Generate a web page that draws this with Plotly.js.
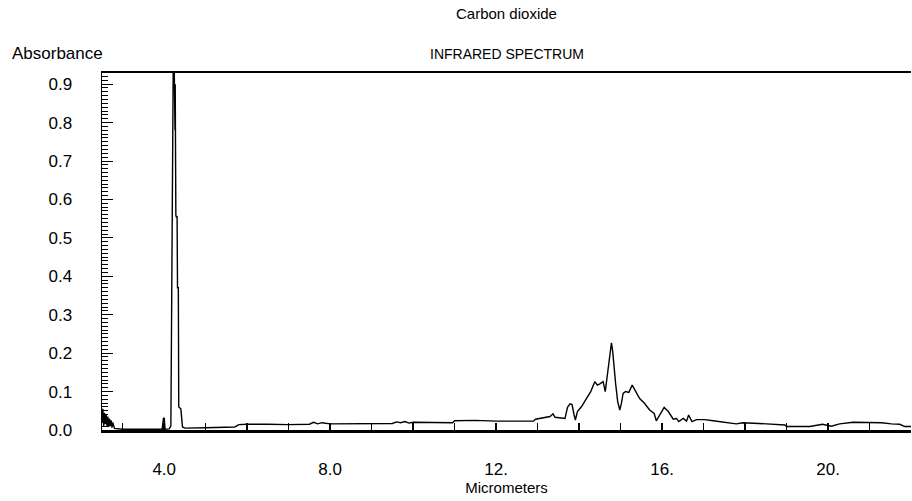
<!DOCTYPE html>
<html>
<head>
<meta charset="utf-8">
<script src="https://cdn.plot.ly/plotly-3.0.1.min.js"></script>
<style>html,body{margin:0;padding:0;background:#fff;}#chart{width:912px;height:501px;}</style>
</head>
<body>
<div id="chart"></div>
<script>
// Wavelength (micrometers)
var wavelength = [
  2.50, 2.52, 2.54, 2.56, 2.58, 2.60, 2.62, 2.64, 2.66, 2.68, 2.70, 2.72, 2.74, 2.76, 2.80, 2.90, 3.00, 3.50, 3.95, 3.98, 4.00, 4.02, 4.12, 4.16,
  4.19, 4.22, 4.24, 4.25, 4.255, 4.26, 4.265, 4.27, 4.28, 4.29, 4.31, 4.32, 4.34, 4.35, 4.40, 4.44, 4.50,
  5.00, 5.50, 5.70, 5.80, 6.00, 6.50, 7.00, 7.50, 7.60, 7.70, 7.80, 8.00, 8.50, 9.00, 9.50, 9.60, 9.70, 9.80, 9.90, 10.00, 10.50, 10.95, 11.00, 11.50, 12.00, 12.50, 12.90, 12.95, 13.20, 13.30, 13.37, 13.42, 13.66,
  13.72, 13.78, 13.83, 13.88, 13.91, 13.96, 14.06, 14.18, 14.28, 14.38, 14.44, 14.50, 14.58, 14.63, 14.68, 14.72, 14.78, 14.81, 14.84, 14.88, 14.93, 14.98, 15.02, 15.06, 15.12, 15.20, 15.28, 15.34, 15.46, 15.58, 15.70, 15.81, 15.86, 15.92, 16.05, 16.15, 16.27, 16.35, 16.40, 16.51, 16.59, 16.64, 16.72, 16.83, 17.03, 17.23, 17.40, 17.63, 17.79, 17.95, 18.28, 18.52, 18.96, 19.00, 19.56, 19.87, 20.08, 20.28, 20.60, 20.84, 21.05, 21.29, 21.53, 21.73, 21.85, 22.00
];
// Absorbance
var absorbance = [
  0.020, 0.055, 0.010, 0.045, 0.015, 0.040, 0.010, 0.035, 0.008, 0.030, 0.010, 0.025, 0.006, 0.020, 0.004, 0.003, 0.002, 0.002, 0.002, 0.030, 0.032, 0.002, 0.003, 0.010,
  0.500, 1.000, 0.950, 0.790, 0.920, 0.780, 0.900, 0.650, 0.560, 0.555, 0.555, 0.370, 0.370, 0.060, 0.055, 0.008, 0.005,
  0.006, 0.007, 0.008, 0.014, 0.015, 0.015, 0.014, 0.015, 0.020, 0.016, 0.019, 0.016, 0.016, 0.016, 0.017, 0.021, 0.019, 0.022, 0.018, 0.020, 0.019, 0.019, 0.024, 0.025, 0.023, 0.023, 0.023, 0.028, 0.032, 0.035, 0.042, 0.033, 0.030,
  0.059, 0.068, 0.066, 0.039, 0.026, 0.048, 0.061, 0.082, 0.100, 0.126, 0.117, 0.120, 0.126, 0.100, 0.139, 0.174, 0.227, 0.204, 0.165, 0.121, 0.074, 0.052, 0.069, 0.095, 0.100, 0.098, 0.117, 0.104, 0.082, 0.069, 0.052, 0.043, 0.024, 0.035, 0.059, 0.048, 0.028, 0.030, 0.022, 0.030, 0.023, 0.039, 0.022, 0.027, 0.027, 0.024, 0.022, 0.019, 0.016, 0.019, 0.018, 0.016, 0.013, 0.009, 0.009, 0.015, 0.010, 0.016, 0.020, 0.019, 0.020, 0.019, 0.016, 0.015, 0.009, 0.009
];
var xTickVals = [4, 8, 12, 16, 20];
var xTickText = ["4.0", "8.0", "12.", "16.", "20."];
var yTickVals = [0, 0.1, 0.2, 0.3, 0.4, 0.5, 0.6, 0.7, 0.8, 0.9];
var yTickText = ["0.0", "0.1", "0.2", "0.3", "0.4", "0.5", "0.6", "0.7", "0.8", "0.9"];

var fontFam = "Liberation Sans, Arial, sans-serif";
var trace = {
  x: wavelength, y: absorbance, type: "scatter", mode: "lines",
  line: {color: "#000", width: 1.4}, hoverinfo: "skip", showlegend: false
};
var layout = {
  width: 912, height: 501,
  margin: {l: 102, r: 1, t: 73, b: 71},
  paper_bgcolor: "#fff", plot_bgcolor: "#fff",
  font: {family: fontFam, size: 15, color: "#000"},
  xaxis: {
    range: [2.5, 22], tickvals: xTickVals, ticktext: xTickText,
    ticks: "inside", ticklen: 7, tickwidth: 1.5, tickcolor: "#000",
    minor: {dtick: 1, tick0: 0, ticks: "inside", ticklen: 7, tickwidth: 1.5, tickcolor: "#000", showgrid: false},
    showline: true, linewidth: 2.5, linecolor: "#000", mirror: true,
    showgrid: false, zeroline: false, ticklabelstandoff: 22,
    tickfont: {family: fontFam, size: 17, color: "#000"},
    title: {text: "Micrometers", font: {family: fontFam, size: 15, color: "#000"}, standoff: 5}
  },
  yaxis: {
    range: [0, 0.929], tickvals: yTickVals, ticktext: yTickText,
    ticks: "inside", ticklen: 11, tickwidth: 1, tickcolor: "#000",
    minor: {dtick: 0.01, tick0: 0, ticks: "inside", ticklen: 6, tickwidth: 1, tickcolor: "#000", showgrid: false},
    showline: true, linewidth: 1.5, linecolor: "#000",
    showgrid: false, zeroline: false, ticklabelstandoff: 25,
    tickfont: {family: fontFam, size: 17, color: "#000"}
  },
  annotations: [
    {text: "Carbon dioxide", xref: "paper", yref: "paper", x: 0.5, y: (430 - 14) / 357, xanchor: "center", yanchor: "middle", showarrow: false, font: {family: fontFam, size: 15, color: "#000"}},
    {text: "INFRARED SPECTRUM", xref: "paper", yref: "paper", x: 0.5, y: (430 - 54) / 357, xanchor: "center", yanchor: "middle", showarrow: false, font: {family: fontFam, size: 14, color: "#000"}},
    {text: "Absorbance", xref: "paper", yref: "paper", x: (10 - 102) / 809, y: (430 - 54) / 357, xanchor: "left", yanchor: "middle", showarrow: false, font: {family: fontFam, size: 17, color: "#000"}}
  ]
};
Plotly.newPlot("chart", [trace], layout, {displayModeBar: false, staticPlot: true});
</script>
</body>
</html>
